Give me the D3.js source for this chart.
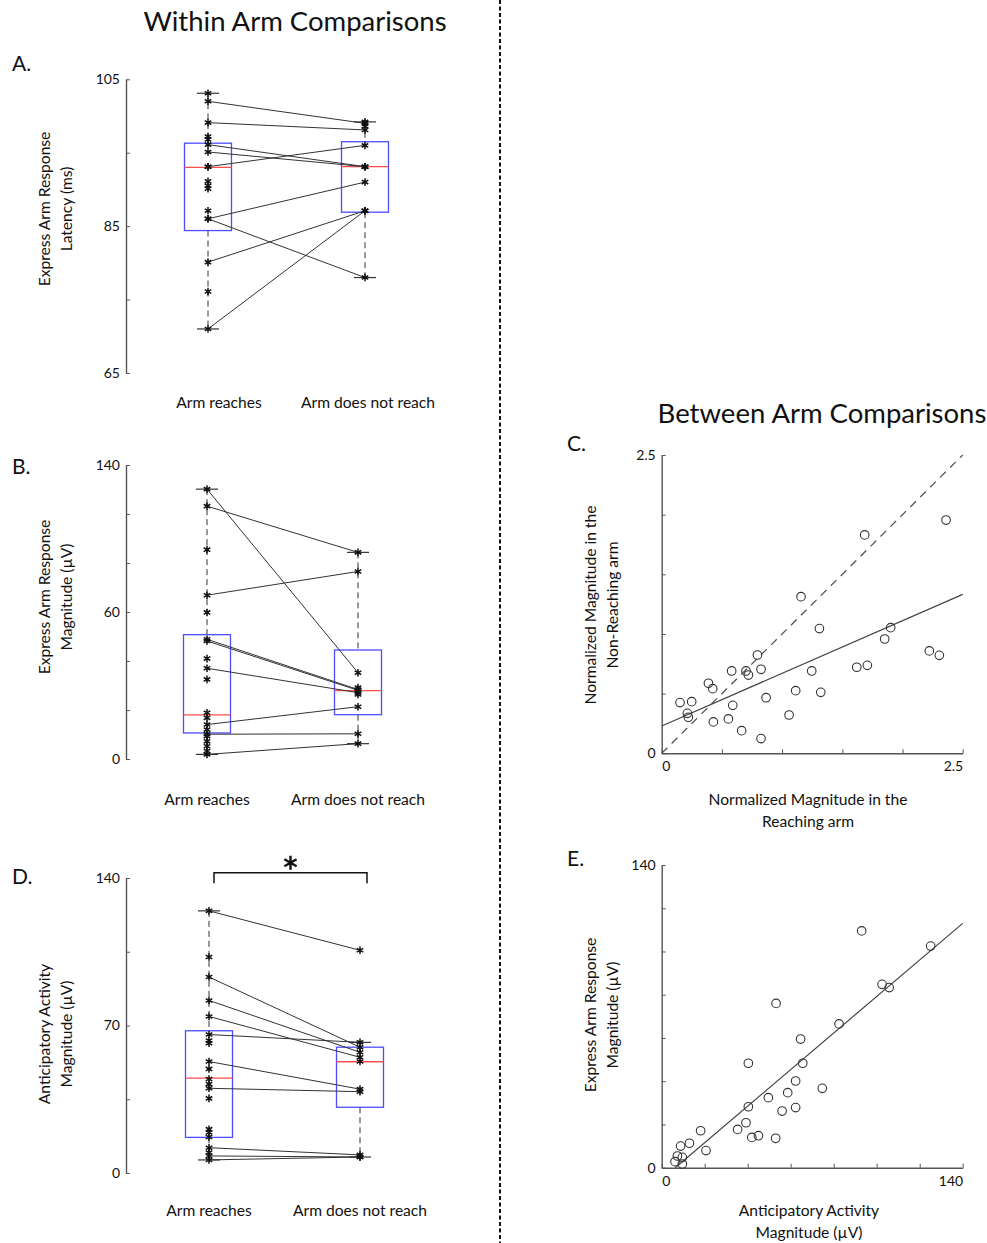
<!DOCTYPE html>
<html>
<head>
<meta charset="utf-8">
<script src="https://cdn.jsdelivr.net/npm/d3@7"></script>
<style>
  body { margin: 0; background: #fff; }
  text { font-family: Lato, "Open Sans", sans-serif; fill: #111; }
</style>
</head>
<body>
<svg id="fig" width="987" height="1243"></svg>
<script>
const categories = ["Arm reaches", "Arm does not reach"];

// A. express arm response latency (ms), paired subjects
const aReach   = [102.0, 99.1, 96.1, 95.1, 93.1, 86.0, 86.0, 80.1, 71.0];
const aNoReach = [99.0, 98.1, 93.1, 93.1, 96.0, 91.0, 78.0, 87.1, 87.1];
const aReachOnly   = [103.1, 97.2, 96.8, 93.1, 91.1, 90.5, 90.1, 87.1, 76.1];
const aNoReachOnly = [99.2, 98.6, 93.1, 87.1];
// box stats [reach, no reach]
const aLow = [71.0, 78.0], aQ1 = [84.4, 86.9], aMed = [93.0, 93.1], aQ3 = [96.3, 96.5], aHigh = [103.1, 99.2];
const aTicks = [65, 75, 85, 95, 105];
const aTickLabels = ["65", "", "85", "", "105"];

// B. express arm response magnitude (uV)
const bReach   = [128.5, 120.4, 78.0, 57.0, 56.2, 43.2, 16.4, 11.8, 2.2];
const bNoReach = [41.1, 98.4, 89.3, 33.1, 32.7, 31.6, 24.9, 12.0, 7.3];
const bReachOnly   = [99.7, 69.8, 47.8, 37.9, 22.0, 19.6, 14.0, 10.8, 8.4, 6.1, 3.8];
const bNoReachOnly = [34.0, 30.7];
const bLow = [2.2, 7.3], bQ1 = [12.4, 21.1], bMed = [21.0, 32.6], bQ3 = [59.2, 51.9], bHigh = [128.5, 98.4];
const bTicks = [0, 23.3, 46.7, 70, 93.3, 116.7, 140];
const bTickLabels = ["0", "", "", "60", "", "", "140"];

// D. anticipatory activity magnitude (uV)
const dReach   = [124.4, 93.0, 81.9, 74.3, 65.7, 52.9, 40.2, 12.0, 8.1, 6.2];
const dNoReach = [105.7, 59.7, 57.3, 54.9, 62.0, 39.8, 38.6, 8.6, 7.6, 7.6];
const dReachOnly   = [102.5, 62.9, 61.6, 49.4, 44.6, 42.2, 35.4, 20.8, 19.2, 17.1, 9.7];
const dNoReachOnly = [52.9];
const dLow = [6.2, 7.6], dQ1 = [16.9, 31.2], dMed = [45.0, 52.8], dQ3 = [67.5, 59.7], dHigh = [124.4, 62.0];
const dTicks = [0, 35, 70, 105, 140];
const dTickLabels = ["0", "", "70", "", "140"];

// C. normalized magnitude, reaching vs non-reaching arm
const cReaching = [0.152, 0.249, 0.213, 0.221, 0.388, 0.424, 0.429, 0.554, 0.590, 0.581, 0.664,
  0.700, 0.720, 0.795, 0.825, 0.825, 0.867, 1.058, 1.113, 1.157, 1.246, 1.310, 1.321, 1.620,
  1.686, 1.708, 1.852, 1.902, 2.223, 2.306, 2.362];
const cNonReaching = [0.425, 0.433, 0.335, 0.302, 0.587, 0.542, 0.263, 0.288, 0.402, 0.690, 0.190,
  0.690, 0.656, 0.824, 0.704, 0.123, 0.466, 0.321, 0.525, 1.313, 0.690, 1.045, 0.511, 0.721,
  1.830, 0.737, 0.958, 1.053, 0.858, 0.821, 1.955];
const cFitX = [0, 2.5], cFitY = [0.229, 1.332];
const cTicks = [0, 0.5, 1, 1.5, 2, 2.5];
const cTickLabels = ["0", "", "", "", "", "2.5"];

// E. anticipatory activity vs express arm response magnitude (uV)
const eAnticip = [8.8, 12.9, 7.3, 9.6, 6.2, 9.6, 18.1, 20.6, 35.3, 39.2, 41.9, 45.0, 40.3, 40.3,
  49.6, 53.0, 53.2, 56.0, 58.6, 62.3, 62.3, 64.6, 65.6, 74.7, 82.5, 93.0, 102.5, 105.8, 125.1];
const eExpress = [10.0, 11.3, 5.4, 4.8, 2.8, 1.7, 17.1, 7.9, 17.7, 20.8, 14.0, 14.8, 28.2, 48.3,
  32.4, 13.6, 76.0, 26.2, 34.7, 27.8, 40.1, 59.5, 48.3, 36.7, 66.5, 109.5, 84.8, 83.3, 102.5];
const eFitX = [6.3, 140], eFitY = [0, 113];
const eTicks = [0, 20, 40, 60, 80, 100, 120, 140];
const eTickLabels = ["0", "", "", "", "", "", "", "140"];

const svg = d3.select("#fig");

// headings
svg.append("text").attr("x", 295).attr("y", 31).attr("text-anchor", "middle")
  .style("font-size", "27.5px").text("Within Arm Comparisons");
svg.append("text").attr("x", 822).attr("y", 423).attr("text-anchor", "middle")
  .style("font-size", "27.5px").text("Between Arm Comparisons");

// divider
svg.append("line").attr("x1", 500).attr("x2", 500).attr("y1", 0).attr("y2", 1243)
  .attr("stroke", "#111").attr("stroke-width", 2).attr("stroke-dasharray", "4,2.5");

function panelLetter(t, x, y) {
  svg.append("text").attr("x", x).attr("y", y).style("font-size", "21px").text(t);
}

function styleAxis(g) {
  g.select(".domain").attr("stroke", "#555").attr("stroke-width", 1.4);
  g.selectAll(".tick line").attr("stroke", "#555");
  g.selectAll(".tick text").style("font-family", "Lato, sans-serif").style("font-size", "14px").attr("fill", "#111");
}

function yLabel(lines, x, y) {
  const t = svg.append("text").attr("transform", `translate(${x},${y}) rotate(-90)`)
    .attr("text-anchor", "middle").style("font-size", "15.6px");
  lines.forEach((l, i) => t.append("tspan").attr("x", 0).attr("dy", i ? 22 : 0).text(l));
}

function xLabel(lines, x, y) {
  const t = svg.append("text").attr("text-anchor", "middle").style("font-size", "15.6px");
  lines.forEach((l, i) => t.append("tspan").attr("x", x).attr("y", y + i * 22).text(l));
}

const star = d3.symbol().type(d3.symbolAsterisk).size(40);

function boxPanel(o) {
  const y = d3.scaleLinear().domain(o.domain).range([o.bottom, o.top]);
  const x = d3.scalePoint().domain(categories).range(o.xs);
  const g = svg.append("g");

  const ax = g.append("g").attr("transform", `translate(${o.axisX},0)`)
    .call(d3.axisLeft(y).tickValues(o.ticks).tickFormat((d, i) => o.tickLabels[i])
      .tickSize(-4).tickSizeOuter(0).tickPadding(6));
  styleAxis(ax);

  const boxW = 47, capW = 22;
  categories.forEach((c, i) => {
    const cx = x(c);
    // whiskers
    g.append("line").attr("x1", cx).attr("x2", cx).attr("y1", y(o.high[i])).attr("y2", y(o.q3[i]))
      .attr("stroke", "#333").attr("stroke-dasharray", "6,4");
    g.append("line").attr("x1", cx).attr("x2", cx).attr("y1", y(o.q1[i])).attr("y2", y(o.low[i]))
      .attr("stroke", "#333").attr("stroke-dasharray", "6,4");
    [o.high[i], o.low[i]].forEach(v => g.append("line")
      .attr("x1", cx - capW / 2).attr("x2", cx + capW / 2).attr("y1", y(v)).attr("y2", y(v))
      .attr("stroke", "#333").attr("stroke-width", 1.2));
    // box
    g.append("rect").attr("x", cx - boxW / 2).attr("width", boxW)
      .attr("y", y(o.q3[i])).attr("height", y(o.q1[i]) - y(o.q3[i]))
      .attr("fill", "none").attr("stroke", "#4d4dff").attr("stroke-width", 1.3);
    g.append("line").attr("x1", cx - boxW / 2).attr("x2", cx + boxW / 2)
      .attr("y1", y(o.med[i])).attr("y2", y(o.med[i]))
      .attr("stroke", "#ff4d4d").attr("stroke-width", 1.3);
  });

  // paired lines
  g.selectAll(".pair").data(o.reach).enter().append("line")
    .attr("x1", x(categories[0])).attr("x2", x(categories[1]))
    .attr("y1", d => y(d)).attr("y2", (d, i) => y(o.noReach[i]))
    .attr("stroke", "#333").attr("stroke-width", 1);

  const pts = o.reach.concat(o.reachOnly).map(v => [categories[0], v])
    .concat(o.noReach.concat(o.noReachOnly).map(v => [categories[1], v]));
  g.selectAll(".pt").data(pts).enter().append("path")
    .attr("d", star)
    .attr("transform", d => `translate(${x(d[0])},${y(d[1])})`)
    .attr("fill", "none").attr("stroke", "#111").attr("stroke-width", 1.5);

  categories.forEach((c, i) => {
    svg.append("text").attr("x", x(c) + o.labelDx[i]).attr("y", o.labelY)
      .attr("text-anchor", "middle").style("font-size", "15.6px").text(c);
  });
  return { x, y, g };
}

// Panel A
panelLetter("A.", 12, 71);
boxPanel({ domain: [65, 105], top: 79.3, bottom: 373, axisX: 126, xs: [208, 365],
  ticks: aTicks, tickLabels: aTickLabels, reach: aReach, noReach: aNoReach,
  reachOnly: aReachOnly, noReachOnly: aNoReachOnly,
  low: aLow, q1: aQ1, med: aMed, q3: aQ3, high: aHigh, labelY: 408, labelDx: [11, 3] });
yLabel(["Express Arm Response", "Latency (ms)"], 50, 209);

// Panel B
panelLetter("B.", 12, 474);
boxPanel({ domain: [0, 140], top: 465, bottom: 759, axisX: 126, xs: [207, 358],
  ticks: bTicks, tickLabels: bTickLabels, reach: bReach, noReach: bNoReach,
  reachOnly: bReachOnly, noReachOnly: bNoReachOnly,
  low: bLow, q1: bQ1, med: bMed, q3: bQ3, high: bHigh, labelY: 805, labelDx: [0, 0] });
yLabel(["Express Arm Response", "Magnitude (µV)"], 50, 597);

// Panel D
panelLetter("D.", 12, 884);
const pD = boxPanel({ domain: [0, 140], top: 878, bottom: 1173, axisX: 126, xs: [209, 360],
  ticks: dTicks, tickLabels: dTickLabels, reach: dReach, noReach: dNoReach,
  reachOnly: dReachOnly, noReachOnly: dNoReachOnly,
  low: dLow, q1: dQ1, med: dMed, q3: dQ3, high: dHigh, labelY: 1216, labelDx: [0, 0] });
yLabel(["Anticipatory Activity", "Magnitude (µV)"], 50, 1034);

// significance bracket in D
const bx0 = pD.x(categories[0]) + 5, bx1 = pD.x(categories[1]) + 7;
const byTop = pD.y(142.5), byBot = pD.y(137.5);
pD.g.append("path")
  .attr("d", `M${bx0},${byBot}V${byTop}H${bx1}V${byBot}`)
  .attr("fill", "none").attr("stroke", "#111").attr("stroke-width", 1.5);
pD.g.append("path").attr("d", d3.symbol().type(d3.symbolAsterisk).size(140)())
  .attr("transform", `translate(${(bx0 + bx1) / 2},${byTop - 10})`)
  .attr("fill", "none").attr("stroke", "#111").attr("stroke-width", 2.4);

function scatterPanel(o) {
  const x = d3.scaleLinear().domain(o.domain).range([o.left, o.right]);
  const y = d3.scaleLinear().domain(o.domain).range([o.bottom, o.top]);
  const g = svg.append("g");

  const n = o.ticks.length;
  const xa = g.append("g").attr("transform", `translate(0,${o.bottom})`)
    .call(d3.axisBottom(x).tickValues(o.ticks).tickFormat((d, i) => o.tickLabels[i])
      .tickSize(-4).tickSizeOuter(0).tickPadding(8));
  styleAxis(xa);
  xa.selectAll(".tick text").attr("text-anchor", (d, i) => i === 0 ? "start" : (i === n - 1 ? "end" : "middle"));
  const ya = g.append("g").attr("transform", `translate(${o.left},0)`)
    .call(d3.axisLeft(y).tickValues(o.ticks).tickFormat((d, i) => o.tickLabels[i])
      .tickSize(-4).tickSizeOuter(0).tickPadding(6));
  styleAxis(ya);

  if (o.identity) {
    g.append("line").attr("x1", x(o.domain[0])).attr("y1", y(o.domain[0]))
      .attr("x2", x(o.domain[1])).attr("y2", y(o.domain[1]))
      .attr("stroke", "#555").attr("stroke-width", 1.3).attr("stroke-dasharray", "8,6");
  }
  g.append("line").attr("x1", x(o.fitX[0])).attr("y1", y(o.fitY[0]))
    .attr("x2", x(o.fitX[1])).attr("y2", y(o.fitY[1]))
    .attr("stroke", "#444").attr("stroke-width", 1.2);

  g.selectAll(".pt").data(o.xs).enter().append("circle")
    .attr("cx", d => x(d)).attr("cy", (d, i) => y(o.ys[i])).attr("r", 4.3)
    .attr("fill", "none").attr("stroke", "#333").attr("stroke-width", 1.1);
}

// Panel C
panelLetter("C.", 567, 451);
scatterPanel({ domain: [0, 2.5], left: 661.7, right: 962.7, top: 455, bottom: 753.3,
  ticks: cTicks, tickLabels: cTickLabels, xs: cReaching, ys: cNonReaching,
  fitX: cFitX, fitY: cFitY, identity: true });
xLabel(["Normalized Magnitude in the", "Reaching arm"], 808, 805);
yLabel(["Normalized Magnitude in the", "Non-Reaching arm"], 596, 605);

// Panel E
panelLetter("E.", 567, 866);
scatterPanel({ domain: [0, 140], left: 661.7, right: 962.7, top: 865, bottom: 1167.7,
  ticks: eTicks, tickLabels: eTickLabels, xs: eAnticip, ys: eExpress,
  fitX: eFitX, fitY: eFitY, identity: false });
xLabel(["Anticipatory Activity", "Magnitude (µV)"], 809, 1216);
yLabel(["Express Arm Response", "Magnitude (µV)"], 596, 1015);
</script>
</body>
</html>
